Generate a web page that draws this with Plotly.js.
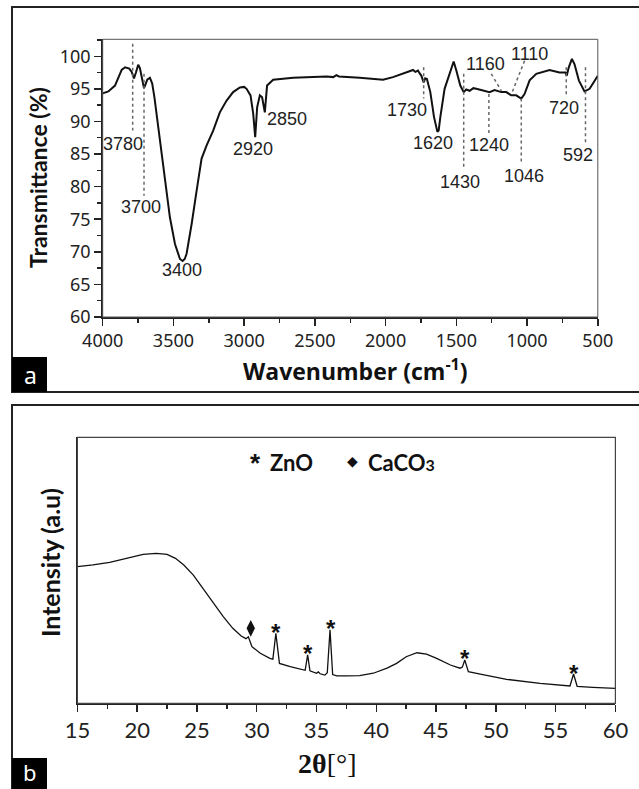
<!DOCTYPE html>
<html>
<head>
<meta charset="utf-8">
<script src="https://cdn.plot.ly/plotly-3.0.1.min.js"></script>
<style>html,body{margin:0;padding:0;background:#fff;}#chart{width:639px;height:789px;}</style>
</head>
<body>
<div id="chart"></div>
<script>
// ---------- FTIR data (panel a) ----------
const ftirWavenumber = [4000,3960,3913,3866,3842,3812,3795,3779,3765,3749,3737,3725,3708,3695,3685,3666,3650,3635,3619,3595,3560,3525,3489,3454,3435,3420,3407,3390,3371,3336,3301,3266,3219,3172,3124,3078,3030,3000,2983,2955,2936,2922,2908,2889,2873,2854,2838,2795,2654,2418,2370,2348,2330,2183,2018,1948,1877,1840,1806,1790,1771,1760,1747,1731,1720,1708,1684,1658,1634,1625,1613,1583,1547,1519,1500,1472,1448,1430,1406,1380,1359,1312,1265,1230,1182,1147,1130,1112,1077,1041,1018,982,935,841,771,729,720,705,683,665,634,594,558,506,500];
const ftirTransmittance = [94.3,94.6,95.5,97.9,98.3,98.1,97.6,96.6,97.5,98.7,98.2,96.8,95.1,95.8,96.4,96.7,95.8,93.8,91.2,86.6,80.9,75.3,71.2,68.9,68.6,68.9,69.7,71.8,74.3,79.4,84.3,86.3,88.6,91.4,93.2,94.5,95.2,95.3,95.0,94.0,91.2,87.6,92.2,94.0,93.7,91.4,95.5,96.4,96.7,96.9,96.8,97.1,96.9,96.7,96.4,96.8,97.4,97.7,97.9,97.6,97.8,97.4,97.0,96.0,96.6,96.5,94.5,90.7,88.4,88.6,90.7,95.0,97.5,99.2,97.8,95.5,94.5,94.9,94.7,95.1,95.0,94.7,94.5,94.8,94.5,94.5,94.2,94.0,94.0,93.5,94.2,96.3,97.3,97.9,97.5,97.5,97.0,98.3,99.6,98.8,96.3,94.6,95.0,96.8,97.0];
const ftirPeakLabels = ["3780","3700","3400","2920","2850","1730","1620","1430","1240","1160","1110","1046","720","592"];
const ftirXTicks = [4000,3500,3000,2500,2000,1500,1000,500];
const ftirYTicks = [60,65,70,75,80,85,90,95,100];

// ---------- XRD data (panel b) ----------
const xrdTwoTheta = [15,16.3,17.7,19.1,20.5,21.6,22.5,23.2,23.9,24.7,25.5,26.4,27.2,28.0,28.7,29.1,29.3,29.6,30.3,31.1,31.35,31.6,31.9,32.8,33.9,34.05,34.26,34.45,35.0,35.15,35.3,35.7,35.9,36.13,36.35,36.7,37.5,38.6,39.75,40.9,41.7,42.5,43.4,44.2,45.05,46.2,47.0,47.2,47.4,47.7,48.7,50.9,53.7,56.2,56.5,56.8,58.1,60];
const xrdIntensity = [51.4,52.0,53.0,54.5,56.0,56.4,56.0,54.5,52.0,48.2,43.2,37.6,32.6,28.2,25.3,24.3,25.0,21.3,18.8,16.9,16.6,26.3,15.0,13.8,12.5,12.4,18.2,12.2,11.3,11.8,11.1,10.6,11.5,27.6,10.8,10.3,10.3,10.4,11.3,13.2,15.0,17.5,19.0,18.5,16.9,14.4,13.2,13.6,16.3,11.9,11.0,9.0,7.5,6.5,11.0,6.4,6.0,5.6];
const znoPeaks = [31.6, 34.26, 36.13, 47.4, 56.5];
const znoPeakHeights = [26.3, 18.2, 27.6, 16.3, 11.0];
const caco3Peaks = [29.4];
const caco3PeakHeights = [25.0];
const xrdXTicks = [15,20,25,30,35,40,45,50,55,60];

// ---------- layout helpers (pixel positions -> paper) ----------
const W = 639, H = 789;
const px = x => x / W;
const py = y => 1 - y / H;

// label placement for FTIR peaks: [label x (cm-1), label y (%), line x0, line y0, line x1, line y1]
const ftirLabelPlacement = {
  "3780": [3854, 86.6, 3788, 101.9, 3788, 88.6],
  "3700": [3731, 76.9, 3708, 97.3, 3708, 78.6],
  "3400": [3441, 67.2, null],
  "2920": [2940, 85.8, null],
  "2850": [2695, 90.4, null],
  "1730": [1846, 91.8, 1731, 98.3, 1731, 93.5],
  "1620": [1667, 86.7, null],
  "1430": [1477, 80.7, 1448, 97.3, 1448, 83.0],
  "1240": [1267, 86.4, 1270, 94.2, 1270, 88.1],
  "1160": [1295, 98.8, 1253, 97.3, 1182, 94.7],
  "1110": [985, 100.4, 1018, 99.3, 1105, 94.5],
  "1046": [1023, 81.6, 1041, 93.5, 1041, 83.5],
  "720":  [741, 92.0, 723, 98.3, 723, 93.7],
  "592":  [638, 84.9, 587, 98.3, 587, 86.6]
};

const traces = [
  {x: ftirWavenumber, y: ftirTransmittance, type: 'scatter', mode: 'lines',
   line: {color: '#111', width: 2}, xaxis: 'x', yaxis: 'y', hoverinfo: 'skip'},
  {x: xrdTwoTheta, y: xrdIntensity, type: 'scatter', mode: 'lines',
   line: {color: '#111', width: 1.3}, xaxis: 'x2', yaxis: 'y2', hoverinfo: 'skip'},
  {x: caco3Peaks.map(v => v + 0.1), y: caco3PeakHeights.map(v => v + 3.2), type: 'scatter', mode: 'markers',
   marker: {symbol: 'diamond-tall', size: 12, color: '#111'}, xaxis: 'x2', yaxis: 'y2', hoverinfo: 'skip'}
];

const shapes = [];
const annotations = [];

// panel frames
shapes.push({type: 'rect', xref: 'paper', yref: 'paper', x0: px(12), x1: 1.05, y0: py(392), y1: py(7),
  line: {color: '#222', width: 2}, fillcolor: 'rgba(0,0,0,0)', layer: 'below'});
shapes.push({type: 'rect', xref: 'paper', yref: 'paper', x0: px(12), x1: 1.05, y0: -0.05, y1: py(405),
  line: {color: '#222', width: 2}, fillcolor: 'rgba(0,0,0,0)', layer: 'below'});
// letter boxes
shapes.push({type: 'rect', xref: 'paper', yref: 'paper', x0: px(12), x1: px(47), y0: py(392), y1: py(357),
  line: {width: 0}, fillcolor: '#000'});
shapes.push({type: 'rect', xref: 'paper', yref: 'paper', x0: px(12), x1: px(47), y0: -0.01, y1: py(758),
  line: {width: 0}, fillcolor: '#000'});
// thin plot boxes
shapes.push({type: 'rect', xref: 'x domain', yref: 'y domain', x0: 0, x1: 1, y0: 0, y1: 1,
  line: {color: '#555', width: 1}});
shapes.push({type: 'rect', xref: 'x2 domain', yref: 'y2 domain', x0: 0, x1: 1, y0: 0, y1: 1,
  line: {color: '#444', width: 1.2}});

// FTIR peak labels and dotted leader lines
ftirPeakLabels.forEach(lab => {
  const p = ftirLabelPlacement[lab];
  annotations.push({xref: 'x', yref: 'y', x: p[0], y: p[1], text: lab, showarrow: false,
    font: {family: 'Liberation Sans, Arial, sans-serif', size: 18, color: '#222'},
    xanchor: 'center', yanchor: 'middle'});
  if (p[2] !== null) {
    shapes.push({type: 'line', xref: 'x', yref: 'y', x0: p[2], y0: p[3], x1: p[4], y1: p[5],
      line: {color: '#666', width: 1.5, dash: 'dot'}});
  }
});

// ZnO asterisks above peaks
znoPeaks.forEach((xv, i) => {
  annotations.push({xref: 'x2', yref: 'y2', x: xv + 0.05, y: znoPeakHeights[i] + 3, text: '<b>*</b>', showarrow: false,
    font: {family: 'Liberation Sans, Arial, sans-serif', size: 24, color: '#111'},
    xanchor: 'center', yanchor: 'middle', yshift: -7});
});

// titles
annotations.push({xref: 'paper', yref: 'paper', x: px(38), y: py(178), text: '<b>Transmittance (%)</b>',
  textangle: -90, showarrow: false, font: {family: 'Lato, sans-serif', size: 23, color: '#111'},
  xanchor: 'center', yanchor: 'middle'});
annotations.push({xref: 'paper', yref: 'paper', x: px(355), y: py(370), text: '<b>Wavenumber (cm<sup>-1</sup>)</b>',
  showarrow: false, font: {family: 'Open Sans, sans-serif', size: 23, color: '#111'},
  xanchor: 'center', yanchor: 'middle'});
annotations.push({xref: 'paper', yref: 'paper', x: px(50), y: py(563), text: '<b>Intensity (a.u)</b>',
  textangle: -90, showarrow: false, font: {family: 'Lato, sans-serif', size: 25, color: '#111'},
  xanchor: 'center', yanchor: 'middle'});
annotations.push({xref: 'paper', yref: 'paper', x: px(327), y: py(763), text: '<b>2θ</b>[°]',
  showarrow: false, font: {family: 'Liberation Serif, serif', size: 28, color: '#111'},
  xanchor: 'center', yanchor: 'middle'});
// panel letters
annotations.push({xref: 'paper', yref: 'paper', x: px(30), y: py(375), text: 'a', showarrow: false,
  font: {family: 'Noto Sans, sans-serif', size: 23, color: '#fff'}, xanchor: 'center', yanchor: 'middle'});
annotations.push({xref: 'paper', yref: 'paper', x: px(30), y: py(772), text: 'b', showarrow: false,
  font: {family: 'Noto Sans, sans-serif', size: 22, color: '#fff'}, xanchor: 'center', yanchor: 'middle'});
// XRD legend
annotations.push({xref: 'paper', yref: 'paper', x: px(255), y: py(457), text: '<b>*</b>', showarrow: false,
  font: {family: 'Liberation Sans, Arial, sans-serif', size: 26, color: '#111'}, xanchor: 'center', yanchor: 'middle', yshift: -6});
annotations.push({xref: 'paper', yref: 'paper', x: px(268), y: py(462), text: '<b>ZnO</b>', showarrow: false,
  font: {family: 'Lato, sans-serif', size: 22, color: '#111'}, xanchor: 'left', yanchor: 'middle'});
annotations.push({xref: 'paper', yref: 'paper', x: px(352), y: py(461), text: '◆', showarrow: false,
  font: {family: 'DejaVu Sans, sans-serif', size: 14, color: '#111'}, xanchor: 'center', yanchor: 'middle'});
annotations.push({xref: 'paper', yref: 'paper', x: px(366), y: py(462),
  text: '<b>CaCO<span style="font-size:16px">3</span></b>', showarrow: false,
  font: {family: 'Lato, sans-serif', size: 22, color: '#111'}, xanchor: 'left', yanchor: 'middle'});

const axisCommon = {
  showgrid: false, zeroline: false, showline: true, linecolor: '#222', linewidth: 1.5,
  ticks: 'outside', ticklen: 7, tickwidth: 1.5, tickcolor: '#222', fixedrange: true
};

const layout = {
  width: W, height: H,
  margin: {l: 0, r: 0, t: 0, b: 0},
  paper_bgcolor: '#fff', plot_bgcolor: '#fff',
  showlegend: false,
  xaxis: Object.assign({}, axisCommon, {
    domain: [px(102.7), px(597.8)], range: [4000, 500], anchor: 'y',
    tickmode: 'array', tickvals: ftirXTicks, ticktext: ftirXTicks.map(String),
    minor: {dtick: 250, tick0: 500, ticks: 'outside', ticklen: 4, tickwidth: 1.5, tickcolor: '#222'},
    tickfont: {family: 'Noto Sans, sans-serif', size: 18, color: '#222'}
  }),
  yaxis: Object.assign({}, axisCommon, {
    domain: [py(317), py(39.3)], range: [60, 102.6], anchor: 'x',
    tickmode: 'array', tickvals: ftirYTicks, ticktext: ftirYTicks.map(String),
    minor: {dtick: 2.5, tick0: 60, ticks: 'outside', ticklen: 4, tickwidth: 1.5, tickcolor: '#222'},
    tickfont: {family: 'Noto Sans, sans-serif', size: 18, color: '#222'}
  }),
  xaxis2: Object.assign({}, axisCommon, {
    domain: [px(77.4), px(615.4)], range: [15, 60], anchor: 'y2',
    tickmode: 'array', tickvals: xrdXTicks, ticktext: xrdXTicks.map(String),
    minor: {dtick: 2.5, tick0: 15, ticks: 'outside', ticklen: 4, tickwidth: 1.5, tickcolor: '#222'},
    tickfont: {family: 'Lato, sans-serif', size: 22, color: '#222'}
  }),
  yaxis2: Object.assign({}, axisCommon, {
    domain: [py(703.3), py(437.3)], range: [0, 100], anchor: 'x2',
    ticks: '', showticklabels: false
  }),
  shapes: shapes,
  annotations: annotations
};

Plotly.newPlot('chart', traces, layout, {displayModeBar: false, staticPlot: true});
</script>
</body>
</html>
